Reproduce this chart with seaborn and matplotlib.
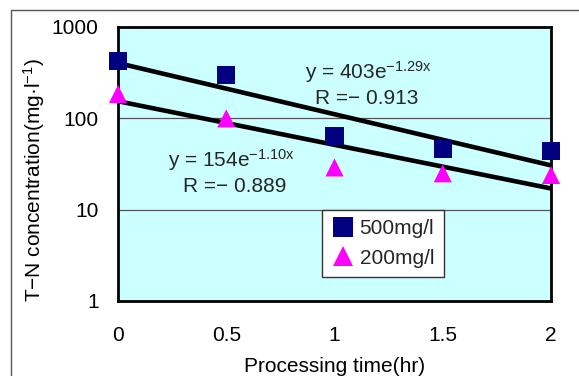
import numpy as np
import pandas as pd
import matplotlib
matplotlib.use("Agg")
import matplotlib.pyplot as plt
import seaborn as sns
from matplotlib.patches import Rectangle
from matplotlib.ticker import FixedLocator, FixedFormatter, NullLocator

# ---- data ----
time_hr = [0, 0.5, 1, 1.5, 2]
tn_500 = [425, 298, 64, 46, 44]
tn_200 = [185, 100, 29, 25, 24]
series_names = ["500mg/l", "200mg/l"]
fit_a = [403, 154]
fit_b = [-1.29, -1.10]
fit_r = ["-0.913", "-0.889"]
x_ticks = [0, 0.5, 1, 1.5, 2]
x_tick_labels = ["0", "0.5", "1", "1.5", "2"]
y_ticks = [1, 10, 100, 1000]
y_tick_labels = ["1", "10", "100", "1000"]

df = pd.DataFrame({
    "time": time_hr * 2,
    "tn": tn_500 + tn_200,
    "series": [series_names[0]] * len(time_hr) + [series_names[1]] * len(time_hr),
})

sns.set_theme(style="white")
plt.rcParams["font.family"] = ["Liberation Sans", "DejaVu Sans"]
plt.rcParams["mathtext.fontset"] = "custom"
plt.rcParams["mathtext.rm"] = "Liberation Sans"
plt.rcParams["mathtext.it"] = "Liberation Sans"

FS = 15

fig = plt.figure(figsize=(5.79, 3.76), dpi=100)
fig.patch.set_facecolor("white")
# outer chart border (left/top visible)
fig.patches.append(Rectangle((11 / 579, -0.1), 1.2, 1 - 10 / 376 + 0.1,
                             transform=fig.transFigure, fill=False,
                             edgecolor="#555555", linewidth=1.0))

ax = fig.add_axes([118 / 579, 1 - 301 / 376, (551 - 118) / 579, (301 - 27) / 376])
ax.set_facecolor("#CCFFFF")
ax.set_yscale("log")
ax.set_xlim(0, 2)
ax.set_ylim(1, 1000)

# gridlines
for yv in [10, 100]:
    ax.axhline(yv, color="#555555", linewidth=0.9, zorder=1)

# trend lines
xs = np.linspace(0, 2, 50)
for a, b in zip(fit_a, fit_b):
    sns.lineplot(x=xs, y=a * np.exp(b * xs), ax=ax, color="black",
                 linewidth=3.3, zorder=3, legend=False)

sns.scatterplot(data=df, x="time", y="tn", hue="series", style="series",
                markers={series_names[0]: "s", series_names[1]: "^"},
                palette={series_names[0]: "#000080", series_names[1]: "#FF00FF"},
                s=170, edgecolor="none", linewidth=0, ax=ax, zorder=4,
                clip_on=False, legend=True)

ax.xaxis.set_major_locator(FixedLocator(x_ticks))
ax.xaxis.set_major_formatter(FixedFormatter(x_tick_labels))
ax.yaxis.set_major_locator(FixedLocator(y_ticks))
ax.yaxis.set_major_formatter(FixedFormatter(y_tick_labels))
ax.yaxis.set_minor_locator(NullLocator())
ax.tick_params(axis="x", direction="in", length=5, width=1, color="#333333",
               labelsize=FS, pad=18)
ax.tick_params(axis="y", length=0, labelsize=FS, pad=14)
for t in ax.get_xticklabels() + ax.get_yticklabels():
    t.set_color("black")

for sp in ax.spines.values():
    sp.set_color("black")
    sp.set_linewidth(2)
    sp.set_visible(True)

ax.set_xlabel("Processing time(hr)", fontsize=FS, labelpad=9, color="black")
ax.set_ylabel("")
fig.text(34 / 579, 1 - 180 / 376,
         "T\u2212N concentration(mg\u00b7l$^{\\mathregular{-1}}$)", fontsize=FS,
         rotation=90, ha="center", va="center", color="black")

# equations
ax.text(369 / 579, 1 - 72 / 376,
        "y = %de$^{\\mathregular{%s}}$" % (fit_a[0], "\u2212" + str(abs(fit_b[0])) + "x"),
        transform=fig.transFigure, ha="center", va="center", fontsize=FS)
ax.text(367 / 579, 1 - 99 / 376, "R =\u2212 " + fit_r[0][1:],
        transform=fig.transFigure, ha="center", va="center", fontsize=FS)
ax.text(232 / 579, 1 - 160 / 376,
        "y = %de$^{\\mathregular{%s}}$" % (fit_a[1], "\u2212" + "%.2f" % abs(fit_b[1]) + "x"),
        transform=fig.transFigure, ha="center", va="center", fontsize=FS)
ax.text(235 / 579, 1 - 187 / 376, "R =\u2212 " + fit_r[1][1:],
        transform=fig.transFigure, ha="center", va="center", fontsize=FS)

handles, labels = ax.get_legend_handles_labels()
leg = ax.legend(handles, labels, loc="upper left",
                bbox_to_anchor=(322 / 579, 1 - 210 / 376),
                bbox_transform=fig.transFigure, fontsize=FS, frameon=True,
                fancybox=False, edgecolor="#333333", framealpha=1,
                handletextpad=0.25, borderpad=0.45, labelspacing=0.5,
                handlelength=1.1, markerscale=1.1, borderaxespad=0)
leg.get_frame().set_linewidth(1.0)

fig.savefig("out.png", dpi=100)
